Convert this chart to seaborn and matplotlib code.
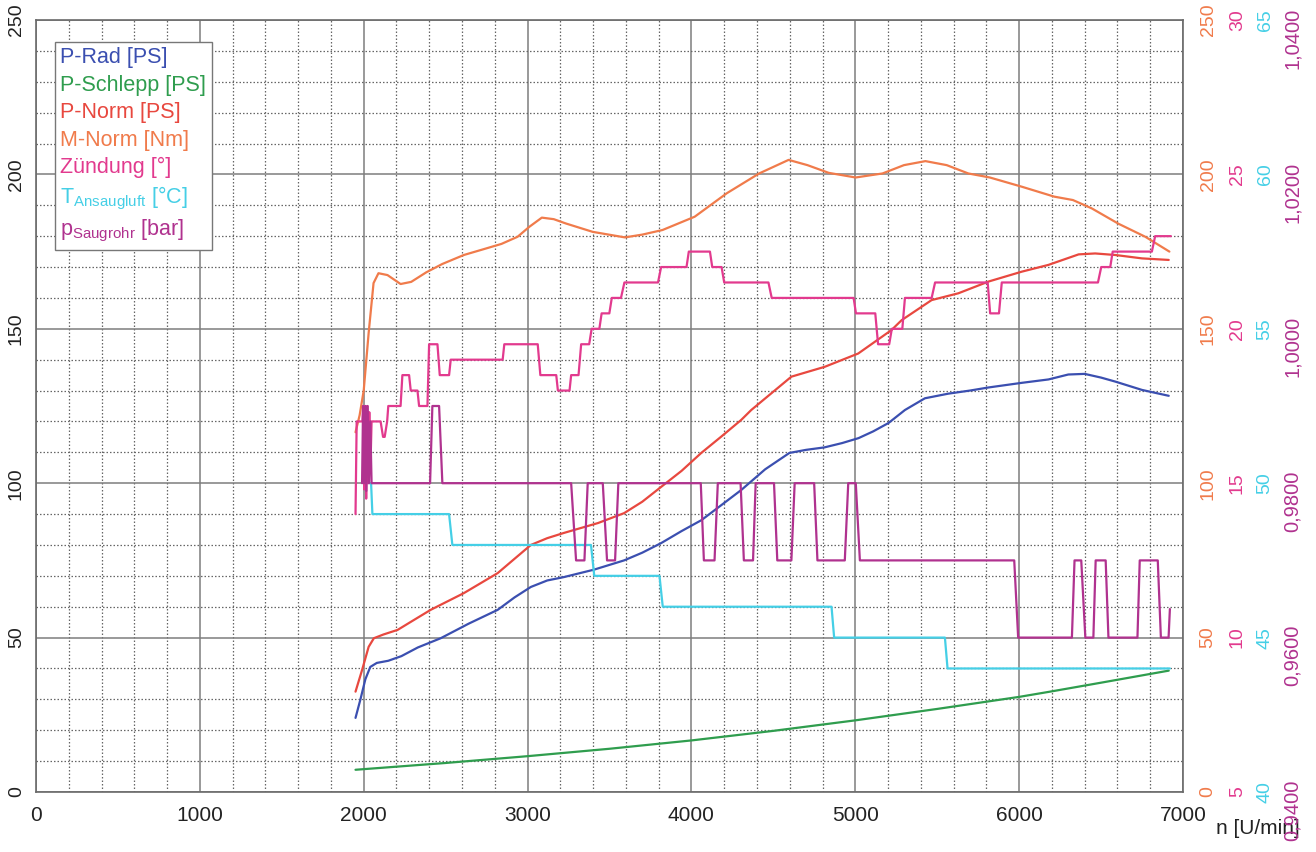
import numpy as np
import pandas as pd
import matplotlib
matplotlib.use("Agg")
import matplotlib.pyplot as plt
import matplotlib.transforms as mtransforms
import seaborn as sns

# -------------------------------
# DATA
# -------------------------------
rpm_rad = [1950, 1980, 2010, 2040, 2080, 2150, 2230, 2330, 2470, 2640, 2818, 2920,
           3020, 3120, 3222, 3405, 3589, 3700, 3815, 3940, 4060, 4180, 4304, 4450,
           4598, 4700, 4812, 4920, 5020, 5110, 5203, 5303, 5425, 5568, 5700, 5813,
           6016, 6179, 6300, 6400, 6500, 6587, 6750, 6913]
p_rad = [24.0, 30.0, 36.5, 40.5, 41.8, 42.5, 44.0, 46.8, 49.8, 54.5, 59.0, 63.0,
         66.4, 68.5, 69.6, 72.0, 75.0, 77.5, 80.6, 84.5, 88.0, 92.8, 97.8, 104.5,
         109.8, 110.8, 111.6, 113.0, 114.6, 116.8, 119.5, 123.7, 127.5, 129.0, 130.0, 131.0,
         132.5, 133.6, 135.2, 135.4, 134.2, 132.9, 130.2, 128.3]

rpm_schlepp = [1950, 2500, 3000, 3500, 4000, 4500, 5000, 5500, 6000, 6200, 6500, 6913]
p_schlepp = [7.2, 9.4, 11.6, 14.0, 16.7, 19.8, 23.2, 26.9, 30.8, 32.6, 35.4, 39.3]

rpm_norm = [1950, 1990, 2030, 2062, 2120, 2207, 2300, 2409, 2611, 2818, 2920, 3020,
            3120, 3222, 3430, 3589, 3700, 3815, 3940, 4060, 4180, 4304, 4365, 4610,
            4814, 5018, 5221, 5283, 5466, 5629, 5813, 6016, 6179, 6363, 6464, 6587,
            6750, 6913]
p_norm = [32.5, 39.5, 47.0, 49.8, 51.0, 52.5, 55.5, 59.0, 64.4, 70.9, 75.5, 80.0,
          82.2, 83.9, 87.1, 90.3, 94.0, 98.8, 104.0, 109.8, 115.0, 120.5, 123.7, 134.5,
          137.7, 142.0, 149.6, 152.8, 159.3, 161.5, 165.3, 168.5, 170.7, 174.1, 174.4, 173.9,
          172.8, 172.3]

rpm_m = [1950, 1975, 2000, 2030, 2060, 2090, 2145, 2225, 2290, 2382, 2480, 2611,
         2733, 2841, 2939, 3010, 3087, 3160, 3234, 3397, 3594, 3700, 3824, 4020,
         4216, 4413, 4593, 4708, 4838, 5002, 5166, 5297, 5428, 5558, 5690, 5821,
         6017, 6214, 6328, 6443, 6607, 6770, 6917]
m_norm = [116.5, 122.0, 130.0, 148.6, 164.8, 168.0, 167.4, 164.5, 165.2, 168.3, 171.0, 173.9,
          175.8, 177.5, 179.8, 183.0, 186.0, 185.5, 184.1, 181.4, 179.6, 180.5, 182.0, 186.3,
          193.9, 200.3, 204.7, 203.0, 200.5, 199.0, 200.3, 203.0, 204.3, 203.0, 200.3, 199.0,
          196.0, 192.8, 191.7, 189.0, 184.0, 179.8, 175.0]

rpm_zund = [1950, 1957, 1992, 1997, 2003, 2009, 2015, 2021, 2027, 2034, 2041, 2048,
            2103, 2118, 2128, 2143, 2150, 2225, 2236, 2277, 2287, 2328, 2338, 2389,
            2399, 2450, 2464, 2521, 2531, 2848, 2858, 3062, 3078, 3175, 3185, 3256,
            3266, 3311, 3327, 3376, 3391, 3438, 3452, 3499, 3514, 3570, 3591, 3796,
            3815, 3970, 3984, 4113, 4127, 4184, 4200, 4470, 4490, 4990, 5004, 5122,
            5139, 5207, 5223, 5287, 5303, 5466, 5487, 5808, 5823, 5877, 5894, 6481,
            6501, 6556, 6571, 6810, 6830, 6926]
zund = [14.0, 17.0, 17.0, 17.5, 14.8, 17.5, 14.5, 17.5, 15.0, 17.3, 15.5, 17.0,
        17.0, 16.5, 16.5, 17.0, 17.5, 17.5, 18.5, 18.5, 18.0, 18.0, 17.5, 17.5,
        19.5, 19.5, 18.5, 18.5, 19.0, 19.0, 19.5, 19.5, 18.5, 18.5, 18.0, 18.0,
        18.5, 18.5, 19.5, 19.5, 20.0, 20.0, 20.5, 20.5, 21.0, 21.0, 21.5, 21.5,
        22.0, 22.0, 22.5, 22.5, 22.0, 22.0, 21.5, 21.5, 21.0, 21.0, 20.5, 20.5,
        19.5, 19.5, 20.0, 20.0, 21.0, 21.0, 21.5, 21.5, 20.5, 20.5, 21.5, 21.5,
        22.0, 22.0, 22.5, 22.5, 23.0, 23.0]

rpm_t = [2035, 2045, 2053, 2521, 2541, 3387, 3407, 3805, 3825, 4855, 4871, 5547, 5563, 6920]
t_ans = [50.0, 50.0, 49.0, 49.0, 48.0, 48.0, 47.0, 47.0, 46.0, 46.0, 45.0, 45.0, 44.0, 44.0]

rpm_p = [1990, 1996, 2002, 2010, 2016, 2024, 2032, 2040, 2048, 2405, 2419, 2460,
         2480, 3266, 3296, 3347, 3367, 3459, 3485, 3534, 3554, 4057, 4076, 4141,
         4161, 4300, 4320, 4376, 4392, 4504, 4524, 4610, 4630, 4749, 4769, 4936,
         4957, 5003, 5028, 5970, 5994, 6322, 6338, 6379, 6404, 6453, 6467, 6528,
         6545, 6722, 6736, 6846, 6865, 6912, 6920]
p_saug = [0.980, 0.990, 0.980, 0.990, 0.979, 0.990, 0.980, 0.988, 0.980, 0.980, 0.990, 0.990,
          0.980, 0.980, 0.970, 0.970, 0.980, 0.980, 0.970, 0.970, 0.980, 0.980, 0.970, 0.970,
          0.980, 0.980, 0.970, 0.970, 0.980, 0.980, 0.970, 0.970, 0.980, 0.980, 0.970, 0.970,
          0.980, 0.980, 0.970, 0.970, 0.960, 0.960, 0.970, 0.970, 0.960, 0.960, 0.970, 0.970,
          0.960, 0.960, 0.970, 0.970, 0.960, 0.960, 0.9637]

left_ticks = [0, 50, 100, 150, 200, 250]
m_ticks = [0, 50, 100, 150, 200, 250]
zund_ticks = [5, 10, 15, 20, 25, 30]
t_ticks = [40, 45, 50, 55, 60, 65]
p_ticks = [0.94, 0.96, 0.98, 1.00, 1.02, 1.04]
x_ticks = [0, 1000, 2000, 3000, 4000, 5000, 6000, 7000]

C_RAD = "#3b4fb0"
C_SCHLEPP = "#2f9d4e"
C_NORM = "#e8483f"
C_M = "#f07b4b"
C_ZUND = "#e23a8e"
C_T = "#45cfe6"
C_P = "#b0328f"

sns.set_theme(style="white")
plt.rcParams["font.family"] = ["Liberation Sans", "DejaVu Sans"]
plt.rcParams["mathtext.fontset"] = "custom"
plt.rcParams["mathtext.rm"] = "Liberation Sans"
plt.rcParams["mathtext.it"] = "Liberation Sans:italic"

fig = plt.figure(figsize=(13.16, 8.52), dpi=100)
fig.subplots_adjust(left=36 / 1316, right=1183 / 1316, bottom=1 - 792 / 852, top=1 - 20 / 852)
ax = fig.add_subplot(111)

LW = 1.6


def draw(axis, x, y, color):
    sns.lineplot(x=x, y=y, ax=axis, color=color, lw=LW, sort=False,
                 estimator=None, legend=False)
    return axis.lines[-1]


# left axis: power
l_rad = draw(ax, rpm_rad, p_rad, C_RAD)
l_schlepp = draw(ax, rpm_schlepp, p_schlepp, C_SCHLEPP)
l_norm = draw(ax, rpm_norm, p_norm, C_NORM)

ax.set_xlim(0, 7000)
ax.set_ylim(0, 250)
ax.set_xticks(x_ticks)
ax.set_xticks(np.arange(0, 7001, 200), minor=True)
ax.set_yticks(left_ticks)
ax.set_yticks(np.arange(0, 251, 10), minor=True)
ax.grid(which="major", color="#7d7d7d", lw=1.1, ls="-")
ax.grid(which="minor", color="#666666", lw=0.9, ls=(0, (1.2, 1.6)))
ax.set_axisbelow(True)
ax.tick_params(axis="both", which="both", length=0, labelsize=15, colors="#222222")
ax.tick_params(axis="x", pad=10)
ax.tick_params(axis="y", labelrotation=90, pad=8, labelsize=14)
for lab in ax.get_yticklabels():
    lab.set_va("center")
for s in ax.spines.values():
    s.set_color("#6a6a6a")
    s.set_linewidth(1.2)
ax.set_xlabel("n [U/min]", fontsize=15, color="#222222", ha="right")
ax.xaxis.set_label_coords((1300 - 36) / (1183 - 36), -0.035)
ax.set_ylabel("")

# right axes
specs = [
    ("m", m_ticks, (0, 250), C_M, 12, 14, None),
    ("z", zund_ticks, (5, 30), C_ZUND, 33, 14, None),
    ("t", t_ticks, (40, 65), C_T, 53, 14, None),
    ("p", p_ticks, (0.94, 1.04), C_P, 72, 14.5, lambda v: f"{v:.4f}".replace(".", ",")),
]
twins = {}
for key, ticks, lim, col, pad, size, fmt in specs:
    tw = ax.twinx()
    tw.set_ylim(*lim)
    tw.set_yticks(ticks)
    if fmt is not None:
        tw.set_yticklabels([fmt(v) for v in ticks])
    tw.tick_params(axis="y", length=0, pad=pad, labelsize=size, labelcolor=col,
                   labelrotation=90)
    tw.grid(False)
    for s in tw.spines.values():
        s.set_visible(False)
    twins[key] = tw

l_m = draw(twins["m"], rpm_m, m_norm, C_M)
l_z = draw(twins["z"], rpm_zund, zund, C_ZUND)
l_t = draw(twins["t"], rpm_t, t_ans, C_T)
l_p = draw(twins["p"], rpm_p, p_saug, C_P)

for tw in twins.values():
    tw.set_ylabel("")
    for lab in tw.get_yticklabels():
        lab.set_va("center")
shift = mtransforms.ScaledTranslation(0, 9 / 72, fig.dpi_scale_trans)
for lab in twins["p"].get_yticklabels():
    lab.set_va("top")
    lab.set_transform(lab.get_transform() + shift)

labels = ["P-Rad [PS]", "P-Schlepp [PS]", "P-Norm [PS]", "M-Norm [Nm]",
          "Zündung [°]", r"T$_{\mathrm{Ansaugluft}}$ [°C]", r"p$_{\mathrm{Saugrohr}}$ [bar]"]
handles = [l_rad, l_schlepp, l_norm, l_m, l_z, l_t, l_p]
leg = twins["p"].legend(handles, labels, loc="upper left",
                        bbox_to_anchor=(55 / 1316, 1 - 42 / 852),
                        bbox_transform=fig.transFigure, handlelength=0,
                        handletextpad=0, fontsize=15.5, frameon=True, fancybox=False,
                        edgecolor="#777777", framealpha=1, borderpad=0.25,
                        labelspacing=0.3, borderaxespad=0)
leg.get_frame().set_linewidth(1.0)
for txt, h in zip(leg.get_texts(), leg.legend_handles):
    txt.set_color(h.get_color())
    h.set_visible(False)

fig.savefig("out.png", dpi=100, facecolor="white")
